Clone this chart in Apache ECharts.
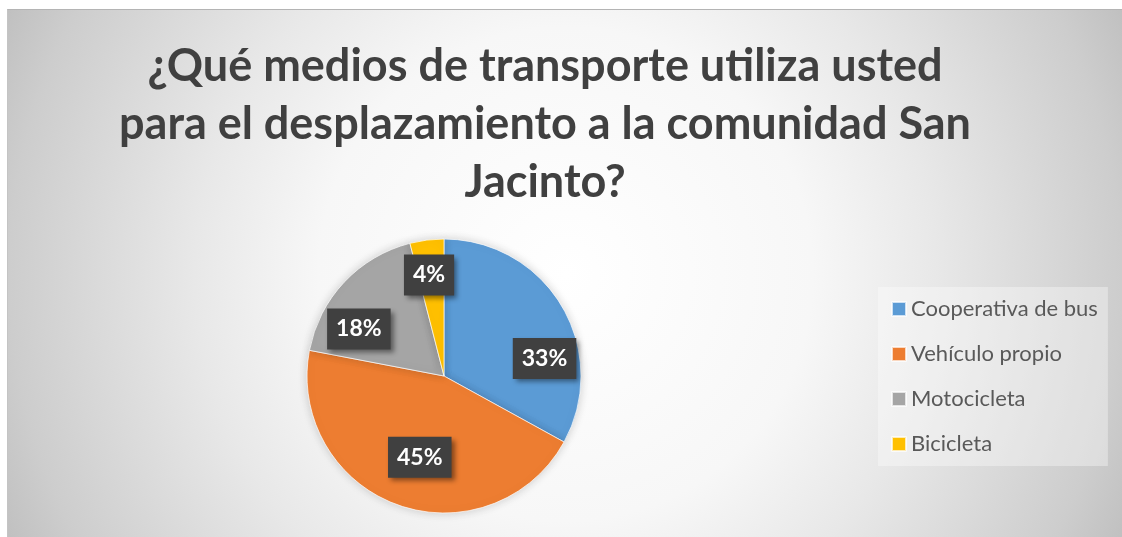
<html>
  <head>
    <meta charset="utf-8">
    <title>Medios de transporte</title>
    <script src="https://cdn.jsdelivr.net/npm/echarts@6.0.0/dist/echarts.min.js"></script>
    <style>
        html, body {
          margin: 0;
          padding: 0;
          background: #ffffff;
        }
        #main{
          position: absolute;
          left: 7px;
          top: 9px;
          width: 1115px;
          height: 528px;
          border-top: 1px solid #b4b4b4;
          border-left: 1px solid #c4c4c4;
        }
    </style>
  </head>
  <body>

    <div id="main"></div>
    <script type="text/javascript">

        // datos
        var categorias = ['Cooperativa de bus', 'Vehículo propio', 'Motocicleta', 'Bicicleta'];
        var valores = [33, 45, 18, 4];
        var colores = ['#5B9BD5', '#ED7D31', '#A5A5A5', '#FFC000'];
        var titulo = '¿Qué medios de transporte utiliza usted\npara el desplazamiento a la comunidad San\nJacinto?';

        // desplazamiento de las etiquetas (como el "ajuste perfecto" de Excel)
        var ajusteEtiquetas = [[39, 19], [0, 14], [-33, 2], [-6, -30]];

        var chartDom = document.getElementById('main');
        var myChart = echarts.init(chartDom);
        var option;

        option = {
          backgroundColor: {
            type: 'radial',
            x: 0.5,
            y: 0.5,
            r: 1.17,
            colorStops: [
              { offset: 0, color: '#ffffff' },
              { offset: 0.4, color: '#f7f7f7' },
              { offset: 0.6, color: '#e8e8e8' },
              { offset: 0.9, color: '#cdcdcd' },
              { offset: 1, color: '#c0c0c0' }
            ]
          },
          title: {
            text: titulo,
            left: 532,
            top: 22,
            textAlign: 'center',
            textStyle: {
              fontFamily: 'Lato',
              fontWeight: 'bold',
              fontSize: 45,
              lineHeight: 58,
              color: '#404040'
            }
          },
          legend: {
            orient: 'vertical',
            left: 870,
            top: 277,
            icon: 'rect',
            itemWidth: 14,
            itemHeight: 14,
            itemGap: 23,
            padding: [11, 10, 11, 13],
            backgroundColor: 'rgba(255,255,255,0.35)',
            textStyle: {
              fontFamily: 'Lato',
              fontSize: 22,
              color: '#595959'
            },
            data: categorias
          },
          series: [
            {
              type: 'pie',
              center: [436, 366],
              radius: 137,
              startAngle: 90,
              clockwise: true,
              silent: true,
              animation: false,
              itemStyle: {
                borderColor: 'rgba(255,255,255,0.7)',
                borderWidth: 1,
                shadowBlur: 10,
                shadowColor: 'rgba(0,0,0,0.18)'
              },
              label: {
                position: 'inside',
                formatter: '{d}%',
                fontFamily: 'Lato',
                fontWeight: 'bold',
                fontSize: 23,
                color: '#ffffff',
                backgroundColor: '#404040',
                padding: [9, 9, 9, 9],
                shadowBlur: 5,
                shadowOffsetX: 3,
                shadowOffsetY: 3,
                shadowColor: 'rgba(0,0,0,0.45)'
              },
              labelLine: { show: false },
              labelLayout: function (params) {
                var a = ajusteEtiquetas[params.dataIndex];
                return { dx: a[0], dy: a[1] };
              },
              data: categorias.map(function (c, i) {
                return { name: c, value: valores[i], itemStyle: { color: colores[i] } };
              })
            }
          ]
        };

        option && myChart.setOption(option);

    </script>

  </body>
</html>
